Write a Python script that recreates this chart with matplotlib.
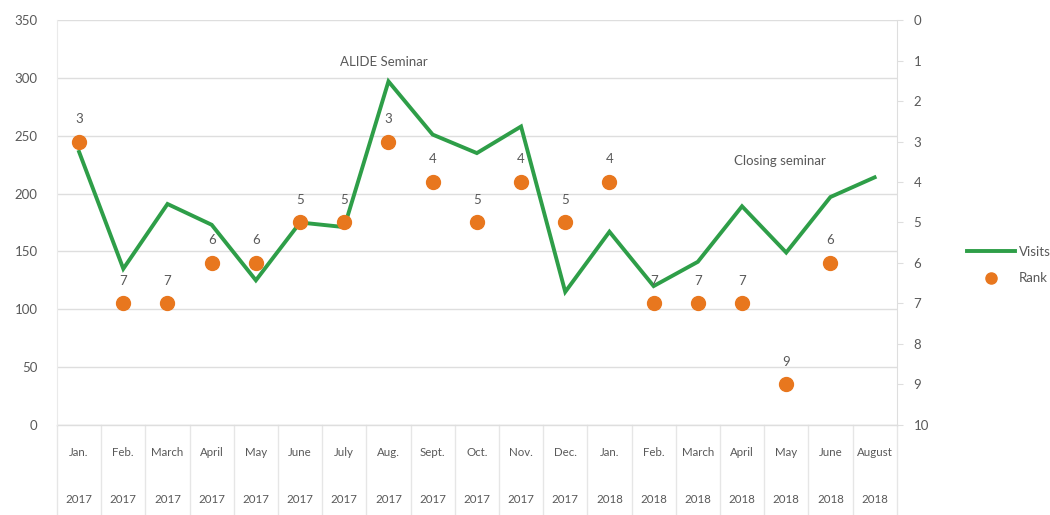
import matplotlib
matplotlib.use("Agg")
import matplotlib.pyplot as plt
from matplotlib.lines import Line2D
import matplotlib.transforms as mtransforms
import numpy as np

months = ["Jan.", "Feb.", "March", "April", "May", "June", "July", "Aug.", "Sept.", "Oct.",
          "Nov.", "Dec.", "Jan.", "Feb.", "March", "April", "May", "June", "August"]
years = ["2017"] * 12 + ["2018"] * 7
visits = [236, 135, 191, 173, 125, 175, 171, 297, 251, 235, 258, 115, 167, 120, 141, 189, 149, 197, 214]
rank = [3, 7, 7, 6, 6, 5, 5, 3, 4, 5, 4, 5, 4, 7, 7, 7, 9, 6, None]
annotations = [("ALIDE Seminar", 6.9, 314), ("Closing seminar", 15.85, 228)]

plt.rcParams['font.family'] = ['Lato', 'DejaVu Sans']
grey = '#595959'
green = '#2E9E48'
orange = '#E8771E'
gridc = '#DEDEDE'

fig = plt.figure(figsize=(10.5, 5.15), dpi=100)
ax = fig.add_axes([0.0543, 0.175, 0.854 - 0.0543, 0.961 - 0.175])
n = len(months)
x = np.arange(n)
ax.set_xlim(-0.5, n - 0.5)
ax.set_ylim(0, 350)
ax.set_yticks(range(0, 351, 50))
ax.yaxis.grid(True, color=gridc, lw=1)
ax.set_axisbelow(True)
ax.tick_params(axis='y', length=0, pad=14, labelsize=9.5, labelcolor=grey)
ax.set_xticks([])
for s in ['top', 'bottom']:
    ax.spines[s].set_visible(False)
ax.spines['left'].set_color('#EAEAEA')
ax.spines['right'].set_visible(False)

ax.plot(x, visits, color=green, lw=2.8, zorder=3, label='Visits', solid_joinstyle='miter')

ax2 = ax.twinx()
ax2.set_ylim(10, 0)
ax2.set_yticks(range(0, 11))
ax2.tick_params(axis='y', length=4, color=gridc, pad=8, labelsize=9.5, labelcolor=grey)
for s in ['top', 'bottom', 'left']:
    ax2.spines[s].set_visible(False)
ax2.spines['right'].set_color(gridc)
rx = [i for i, r in enumerate(rank) if r is not None]
ry = [r for r in rank if r is not None]
ax2.plot(rx, ry, 'o', color=orange, ms=10, zorder=4, label='Rank')
for xi, r in zip(rx, ry):
    ax2.annotate(str(r), (xi, r), xytext=(0, 12), textcoords='offset points',
                 ha='center', va='bottom', fontsize=9.5, color=grey)

for txt, xi, yi in annotations:
    ax.text(xi, yi, txt, ha='center', va='center', fontsize=9.5, color=grey)

# category axis labels
trans = mtransforms.blended_transform_factory(ax.transData, ax.transAxes)
for i in range(n):
    ax.text(i, -0.069, months[i], transform=trans, ha='center', va='center', fontsize=8.3, color=grey, clip_on=False)
    ax.text(i, -0.185, years[i], transform=trans, ha='center', va='center', fontsize=8.3, color=grey, clip_on=False)
for i in range(n + 1):
    ax.plot([i - 0.5, i - 0.5], [0, -0.23], transform=trans, color='#E6E6E6', lw=1, clip_on=False)
ax.plot([-0.5, n - 0.5], [0, 0], transform=trans, color=gridc, lw=1, clip_on=False)

handles = [Line2D([], [], color=green, lw=2.8), Line2D([], [], marker='o', color=orange, ls='none', ms=8)]
fig.legend(handles, ['Visits', 'Rank'], loc='center left', bbox_to_anchor=(0.91, 0.485),
           frameon=False, fontsize=9.5, labelcolor=grey, handlelength=3.6, handletextpad=0.3, labelspacing=1.1)

fig.savefig('out.png', dpi=100)
